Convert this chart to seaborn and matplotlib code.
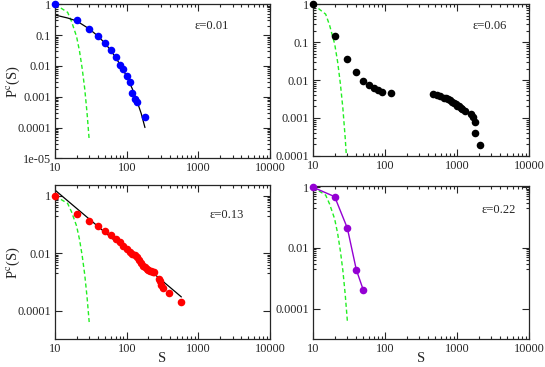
import numpy as np
import matplotlib
matplotlib.use("Agg")
import matplotlib.pyplot as plt
from matplotlib.ticker import FixedLocator, NullFormatter
import seaborn as sns

sns.set_style("ticks")
plt.rcParams['font.family'] = ['Liberation Serif', 'DejaVu Serif']
plt.rcParams['mathtext.fontset'] = 'stix'

# green dashed reference curve (same in every panel)
s_ref = [10, 15, 17, 20, 22, 24, 26, 28, 30]
p_ref = [1, 0.55, 0.28, 0.09, 0.03, 0.008, 0.0018, 0.0003, 0.00004]

# eps = 0.01
s_a = [10, 20, 30, 40, 50, 60, 70, 80, 90, 100, 110, 120, 130, 140, 180]
p_a = [1, 0.31, 0.158, 0.094, 0.054, 0.033, 0.020, 0.011, 0.0079, 0.0048,
       0.0031, 0.0013, 0.00085, 0.00066, 0.00022]
s_fit_a = [10, 15, 20, 30, 40, 50, 60, 70, 80, 90, 100, 120, 140, 160, 180]
p_fit_a = [0.45, 0.36, 0.29, 0.16, 0.092, 0.054, 0.032, 0.019, 0.0115,
           0.0072, 0.0046, 0.0018, 0.0007, 0.00028, 0.0001]

# eps = 0.06
s_b = [10, 20, 30, 40, 50, 60, 70, 80, 90, 120,
       458, 520, 590, 658, 700, 755, 810, 858, 900, 955, 1010, 1064, 1120,
       1177, 1285, 1550, 1680, 1775, 1775, 2090]
p_b = [1, 0.145, 0.036, 0.016, 0.0096, 0.0074, 0.0063, 0.0055, 0.0047, 0.0046,
       0.0043, 0.0041, 0.0039, 0.0034, 0.0034, 0.0032, 0.0030, 0.0027, 0.0025,
       0.0023, 0.0021, 0.0020, 0.0018, 0.0017, 0.0015, 0.0013, 0.00107,
       0.00076, 0.00039, 0.00019]

# eps = 0.13
s_c = [10, 20, 30, 40, 50, 60, 70, 80, 90, 100, 110, 120, 130, 140, 150,
       160, 170, 180, 190, 200, 210, 220, 230, 240, 280, 290, 300, 320, 390, 570]
p_c = [1, 0.23, 0.136, 0.089, 0.060, 0.042, 0.031, 0.024, 0.018, 0.014,
       0.011, 0.0095, 0.0085, 0.0075, 0.0058, 0.0046, 0.0037, 0.0032, 0.0029,
       0.0027, 0.0025, 0.0024, 0.0023, 0.0022, 0.0013, 0.0011, 0.0008,
       0.0006, 0.0004, 0.0002]
s_fit_c = [10, 580]
p_fit_c = [1.6, 0.0003]

# eps = 0.22
s_d = [10, 20, 30, 40, 50]
p_d = [1, 0.49, 0.045, 0.0019, 0.00041]

x_ticks = [10, 100, 1000, 10000]
x_labels = ['10', '100', '1000', '10000']

panels = [
    dict(rect=[0.1009, 0.5686, 0.3945, 0.4196], ylim=(1e-5, 1),
         yt=[1, 0.1, 0.01, 0.001, 0.0001, 1e-5],
         yl=['1', '0.1', '0.01', '0.001', '0.0001', '1e-05'],
         s=s_a, p=p_a, color='#0000ff', fit=(s_fit_a, p_fit_a), join=False,
         txt='ε=0.01', tpos=(0.73, 0.86), ylab=True, xlab=False),
    dict(rect=[0.5743, 0.5757, 0.3963, 0.4125], ylim=(1e-4, 1),
         yt=[1, 0.1, 0.01, 0.001, 0.0001],
         yl=['1', '0.1', '0.01', '0.001', '0.0001'],
         s=s_b, p=p_b, color='black', fit=None, join=False,
         txt='ε=0.06', tpos=(0.82, 0.857), ylab=False, xlab=False),
    dict(rect=[0.1009, 0.0755, 0.3945, 0.4196], ylim=(1e-5, 2.35),
         yt=[1, 0.01, 0.0001], yl=['1', '0.01', '0.0001'],
         s=s_c, p=p_c, color='#ff0000', fit=(s_fit_c, p_fit_c), join=False,
         txt='ε=0.13', tpos=(0.80, 0.81), ylab=True, xlab=True),
    dict(rect=[0.5743, 0.0763, 0.3963, 0.4169], ylim=(1e-5, 1.1),
         yt=[1, 0.01, 0.0001], yl=['1', '0.01', '0.0001'],
         s=s_d, p=p_d, color='#9400d3', fit=None, join=True,
         txt='ε=0.22', tpos=(0.86, 0.84), ylab=False, xlab=True),
]

fig = plt.figure(figsize=(5.45, 3.67), dpi=100)

for pn in panels:
    ax = fig.add_axes(pn['rect'])
    ax.set_xscale('log')
    ax.set_yscale('log')

    sns.lineplot(x=s_ref, y=p_ref, ax=ax, color='#22ee22', lw=1.0,
                 linestyle=(0, (3, 2)), estimator=None, sort=False)
    if pn['fit'] is not None:
        sns.lineplot(x=pn['fit'][0], y=pn['fit'][1], ax=ax, color='black',
                     lw=0.9, estimator=None, sort=False)
    if pn['join']:
        sns.lineplot(x=pn['s'], y=pn['p'], ax=ax, color=pn['color'], lw=1.0,
                     estimator=None, sort=False)
    sns.scatterplot(x=pn['s'], y=pn['p'], ax=ax, color=pn['color'], s=30,
                    edgecolor=pn['color'], linewidth=0, clip_on=False, zorder=5)

    ax.set_xlim(10, 10000)
    ax.set_ylim(*pn['ylim'])

    ax.xaxis.set_major_locator(FixedLocator(x_ticks))
    ax.set_xticklabels(x_labels)
    xminor = [m * 10.0 ** k for k in range(1, 4) for m in range(2, 10)]
    ax.xaxis.set_minor_locator(FixedLocator(xminor))
    ax.xaxis.set_minor_formatter(NullFormatter())

    ax.yaxis.set_major_locator(FixedLocator(pn['yt']))
    ax.set_yticklabels(pn['yl'])
    ratio = pn['yt'][0] / pn['yt'][1]
    yminor = [m * v for v in pn['yt'][1:] for m in range(2, 10)]
    if ratio == 100:
        yminor = [m * v / 10 for v in pn['yt'][:-1] for m in range(2, 10)]
    ax.yaxis.set_minor_locator(FixedLocator(yminor))
    ax.yaxis.set_minor_formatter(NullFormatter())

    ax.tick_params(which='both', direction='in', top=True, right=True,
                   labelsize=8.8, pad=3, width=0.8)
    ax.tick_params(which='major', length=5)
    ax.tick_params(which='minor', length=2.5)
    for sp in ax.spines.values():
        sp.set_linewidth(0.9)
        sp.set_visible(True)

    ax.text(pn['tpos'][0], pn['tpos'][1], pn['txt'], transform=ax.transAxes,
            ha='center', va='center', fontsize=9)
    ax.set_ylabel('P$^{\\mathrm{c}}$(S)' if pn['ylab'] else '', fontsize=10.5,
                  va='center')
    ax.yaxis.set_label_coords(-0.195, 0.5)
    ax.set_xlabel('S' if pn['xlab'] else '', fontsize=10.5, va='center')
    ax.xaxis.set_label_coords(0.5, -0.125)

fig.savefig('out.png', dpi=100)
